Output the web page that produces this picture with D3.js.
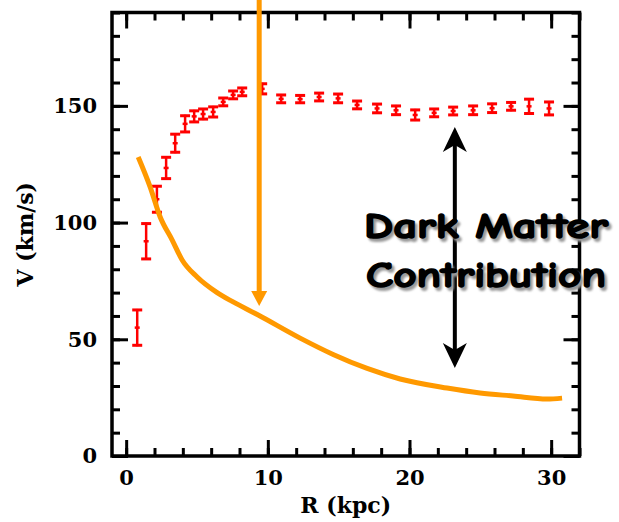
<!DOCTYPE html>
<html>
<head>
<meta charset="utf-8">
<script src="https://cdn.jsdelivr.net/npm/d3@7"></script>
<style>
html,body{margin:0;padding:0;background:#fff;}
svg{display:block;}
</style>
</head>
<body>
<svg id="chart" width="619" height="522"></svg>
<script>
// ---- data ----
const obsR   = [0.78,1.41,2.17,2.82,3.46,4.16,4.80,5.43,6.14,6.85,7.55,8.19,9.60,10.94,12.28,13.62,14.96,16.30,17.71,19.05,20.40,21.74,23.08,24.49,25.83,27.17,28.44,29.85];
const obsV   = [55,92,110,123.4,134,142.3,145.5,146.5,147.4,151.7,154.7,156,157.3,153,152.9,153.8,153.2,150.4,148.9,148.1,146.1,147,147.8,148.1,149,149.8,149.8,148.9];
const obsErr = [8,8,6,5,4.3,3.9,2.8,2.6,2.6,2.1,2.1,2.1,2.6,2.1,2,2.1,2.3,2.1,2.3,2.3,2.6,2.1,2.1,2.3,2.3,2.1,3.5,3.2];

const diskR = [0.85,1.69,2.40,3.25,3.95,5.01,6.42,7.55,9.32,12.28,14.61,17.01,19.34,22.65,24.98,27.31,29.71,30.77];
const diskV = [128.1,115.3,102.4,92.5,84.0,76.7,70.0,66.0,60.4,50.5,43.5,37.5,33.0,29.1,27.0,25.7,24.4,24.8];

const xMajorTicks = [0,10,20,30];
const xMinorTicks = [0,2,4,6,8,10,12,14,16,18,20,22,24,26,28,30,32];
const yMajorTicks = [0,50,100,150];
const yMinorTicks = [0,10,20,30,40,50,60,70,80,90,100,110,120,130,140,150,160,170,180,190];

const xLabel = "R (kpc)";
const yLabel = "V (km/s)";
const annotLines = ["Dark Matter","Contribution"];
const orangeArrowR = 9.39, orangeArrowTipV = 64.3;
const blackArrowR = 23.2, blackArrowTopV = 141, blackArrowBotV = 37.7;

// ---- layout ----
const L = 112, R = 579.5, T = 12.5, B = 456;
const svg = d3.select("#chart");
const x = d3.scaleLinear().domain([-1,32]).range([L,R]);
const y = d3.scaleLinear().domain([0,190]).range([B,T]);

const axisFont = "'DejaVu Serif', 'Liberation Serif', serif";

function styleAxis(g){
  g.select(".domain").remove();
  g.selectAll(".tick line").attr("stroke","#000").attr("stroke-width",3);
}
// bottom
svg.append("g").attr("transform",`translate(0,${B})`)
  .call(d3.axisBottom(x).tickValues(xMinorTicks).tickSize(-8).tickFormat("")).call(styleAxis);
svg.append("g").attr("transform",`translate(0,${B})`)
  .call(d3.axisBottom(x).tickValues(xMajorTicks).tickSize(-16).tickPadding(14).tickFormat(d3.format("d")))
  .call(styleAxis)
  .call(g=>g.selectAll("text").attr("font-family",axisFont).attr("font-weight","bold").attr("font-size",21).attr("fill","#000"));
// top
svg.append("g").attr("transform",`translate(0,${T})`)
  .call(d3.axisTop(x).tickValues(xMinorTicks).tickSize(-8).tickFormat("")).call(styleAxis);
svg.append("g").attr("transform",`translate(0,${T})`)
  .call(d3.axisTop(x).tickValues(xMajorTicks).tickSize(-16).tickFormat("")).call(styleAxis);
// left
svg.append("g").attr("transform",`translate(${L},0)`)
  .call(d3.axisLeft(y).tickValues(yMinorTicks).tickSize(-8).tickFormat("")).call(styleAxis);
svg.append("g").attr("transform",`translate(${L},0)`)
  .call(d3.axisLeft(y).tickValues(yMajorTicks).tickSize(-16).tickPadding(15).tickFormat(d3.format("d")))
  .call(styleAxis)
  .call(g=>g.selectAll("text").attr("font-family",axisFont).attr("font-weight","bold").attr("font-size",21).attr("fill","#000"));
// right
svg.append("g").attr("transform",`translate(${R},0)`)
  .call(d3.axisRight(y).tickValues(yMinorTicks).tickSize(-8).tickFormat("")).call(styleAxis);
svg.append("g").attr("transform",`translate(${R},0)`)
  .call(d3.axisRight(y).tickValues(yMajorTicks).tickSize(-16).tickFormat("")).call(styleAxis);

// frame
svg.append("rect").attr("x",L).attr("y",T).attr("width",R-L).attr("height",B-T)
  .attr("fill","none").attr("stroke","#000").attr("stroke-width",3.5);

// axis labels
svg.append("text").attr("x",(L+R)/2).attr("y",513).attr("text-anchor","middle")
  .attr("font-family",axisFont).attr("font-weight","bold").attr("font-size",22).text(xLabel);
svg.append("text").attr("transform",`translate(33,${(T+B)/2}) rotate(-90)`).attr("text-anchor","middle")
  .attr("font-family",axisFont).attr("font-weight","bold").attr("font-size",22).text(yLabel);

// error bars
const eb = svg.append("g").attr("stroke","#ff0000").attr("fill","none");
obsR.forEach((r,i)=>{
  const cx = x(r), yt = y(obsV[i]+obsErr[i]), yb = y(obsV[i]-obsErr[i]), yc = y(obsV[i]);
  eb.append("line").attr("x1",cx).attr("x2",cx).attr("y1",yt).attr("y2",yb).attr("stroke-width",2.5);
  eb.append("line").attr("x1",cx-5).attr("x2",cx+5).attr("y1",yt+1).attr("y2",yt+1).attr("stroke-width",3);
  eb.append("line").attr("x1",cx-5).attr("x2",cx+5).attr("y1",yb-1).attr("y2",yb-1).attr("stroke-width",3);
  eb.append("line").attr("x1",cx-2.5).attr("x2",cx+2.5).attr("y1",yc).attr("y2",yc).attr("stroke-width",2.5);
});

// orange disk curve
const line = d3.line().x((d,i)=>x(diskR[i])).y((d,i)=>y(diskV[i])).curve(d3.curveMonotoneX);
svg.append("path").attr("d",line(diskR)).attr("fill","none").attr("stroke","#ff9900")
  .attr("stroke-width",5).attr("stroke-linejoin","round").attr("stroke-linecap","butt");

// orange vertical arrow
const oax = x(orangeArrowR), oTip = y(orangeArrowTipV);
svg.append("line").attr("x1",oax).attr("x2",oax).attr("y1",0).attr("y2",oTip-12)
  .attr("stroke","#ff9900").attr("stroke-width",5);
svg.append("path").attr("d",`M${oax},${oTip} L${oax-8},${oTip-15} L${oax+8},${oTip-15} Z`).attr("fill","#ff9900");

// black double arrow
const bax = x(blackArrowR), bTop = y(blackArrowTopV), bBot = y(blackArrowBotV);
svg.append("line").attr("x1",bax).attr("x2",bax).attr("y1",bTop+15).attr("y2",bBot-15)
  .attr("stroke","#000").attr("stroke-width",4);
svg.append("path").attr("d",`M${bax},${bTop} L${bax+12},${bTop+25} L${bax},${bTop+18} L${bax-12},${bTop+25} Z`).attr("fill","#000");
svg.append("path").attr("d",`M${bax},${bBot} L${bax+12},${bBot-25} L${bax},${bBot-18} L${bax-12},${bBot-25} Z`).attr("fill","#000");

// annotation text with shadow
const defs = svg.append("defs");
const f = defs.append("filter").attr("id","blur").attr("x","-10%").attr("y","-10%").attr("width","120%").attr("height","120%");
f.append("feGaussianBlur").attr("stdDeviation",1.2);
const annotFont = "'Comic Sans MS','Comic Neue','DejaVu Sans',sans-serif";
const annY = [238, 287], annW = [244, 240], annX = 486;
annotLines.forEach((t,i)=>{
  svg.append("text").attr("x",annX+2.5).attr("y",annY[i]+2.5).attr("text-anchor","middle")
    .attr("font-family",annotFont).attr("font-weight","bold").attr("font-size",37)
    .attr("textLength",annW[i]).attr("lengthAdjust","spacingAndGlyphs")
    .attr("fill","#9a9a9a").attr("stroke","#9a9a9a").attr("stroke-width",2)
    .attr("filter","url(#blur)").text(t);
  svg.append("text").attr("x",annX).attr("y",annY[i]).attr("text-anchor","middle")
    .attr("font-family",annotFont).attr("font-weight","bold").attr("font-size",37)
    .attr("textLength",annW[i]).attr("lengthAdjust","spacingAndGlyphs")
    .attr("fill","#000").attr("stroke","#000").attr("stroke-width",1.6).attr("stroke-linejoin","round").text(t);
});
</script>
</body>
</html>
